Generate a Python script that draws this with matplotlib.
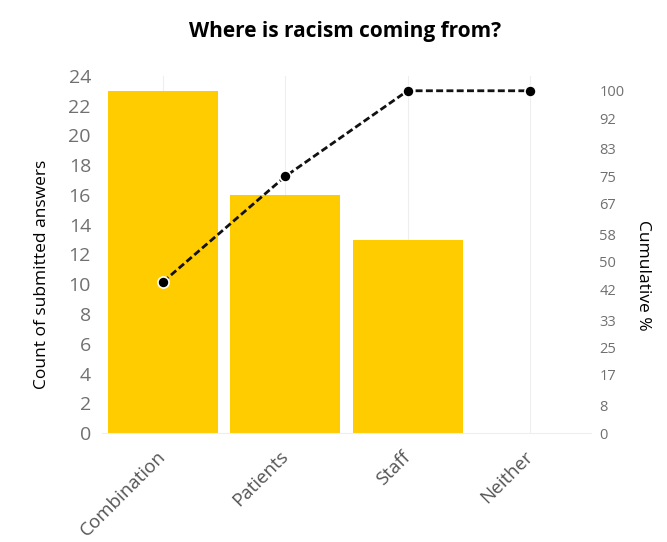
import numpy as np
import matplotlib.pyplot as plt

plt.rcParams['font.family'] = ['Open Sans', 'DejaVu Sans']

categories = ["Combination", "Patients", "Staff", "Neither"]
counts = [23, 16, 13, 0]
cumulative_pct = [44.2, 75.0, 100.0, 100.0]

left_ticks = list(range(0, 25, 2))
right_ticks = [0, 8, 17, 25, 33, 42, 50, 58, 67, 75, 83, 92, 100]

bar_color = '#FFCC00'
tick_gray = '#707070'

fig = plt.figure(figsize=(6.67, 5.42), dpi=100)
ax = fig.add_axes([0.153, 0.201, 0.733, 0.659])
x = np.arange(len(categories))

ax.bar(x, counts, width=0.9, color=bar_color, zorder=2)
ax.set_xlim(-0.5, len(categories) - 0.5)
ax.set_ylim(0, 24)
ax.set_yticks(left_ticks)
ax.tick_params(axis='y', length=0, labelsize=14, labelcolor=tick_gray, pad=8)
ax.set_xticks(x)
ax.set_xticklabels(categories, rotation=45, ha='right', va='center', rotation_mode='anchor')
ax.tick_params(axis='x', length=0, labelsize=13.5, labelcolor='#555555', pad=15)
ax.grid(axis='x', color='#eeeeee', linewidth=0.8, zorder=0)
ax.set_ylabel("Count of submitted answers", fontsize=12.5)
ax.yaxis.set_label_coords(-0.107, 0.443)
for s in ['top', 'right', 'left']:
    ax.spines[s].set_visible(False)
ax.spines['bottom'].set_color('#eeeeee')

ax2 = ax.twinx()
ax2.plot(x, cumulative_pct, linestyle=(0, (2.5, 1.2)), color='#111111', linewidth=2,
         marker='o', markersize=8, markerfacecolor='black', markeredgecolor='white',
         markeredgewidth=1.2, zorder=3)
ax2.set_ylim(0, 104.35)
ax2.set_yticks(right_ticks)
ax2.tick_params(axis='y', length=0, labelsize=10.5, labelcolor=tick_gray, pad=6)
ax2.set_ylabel("Cumulative %", fontsize=12.5, rotation=270, va='center')
ax2.yaxis.set_label_coords(1.106, 0.443)
for s in ['top', 'right', 'left', 'bottom']:
    ax2.spines[s].set_visible(False)

fig.suptitle("Where is racism coming from?", x=0.517, y=0.962, fontsize=15, fontweight='bold')

fig.savefig("out.png", dpi=100)
